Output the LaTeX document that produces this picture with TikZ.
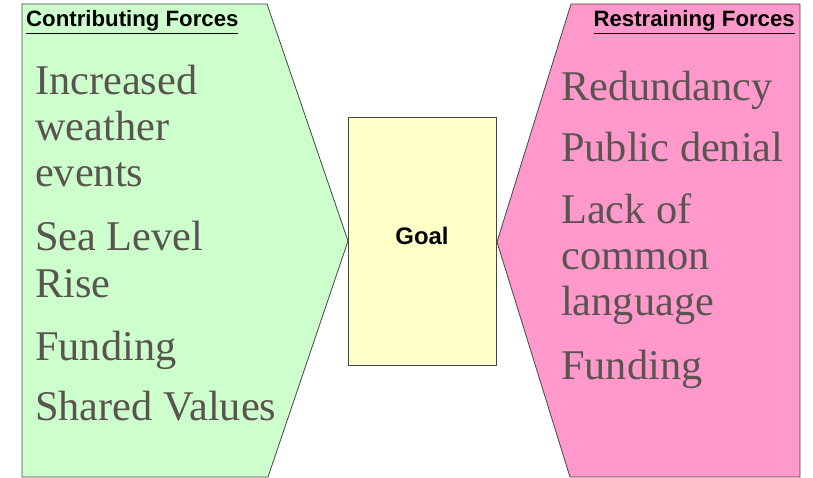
\documentclass[tikz,border=0pt]{standalone}
\usepackage{fontspec}
\setmainfont{Liberation Serif}
\newfontfamily\hdrfont{Liberation Sans}
\definecolor{txtgray}{RGB}{89,84,80}
\definecolor{contribgreen}{RGB}{204,255,204}
\definecolor{restrainpink}{RGB}{255,153,204}
\definecolor{goalyellow}{RGB}{255,255,200}
\definecolor{edgegray}{RGB}{70,70,70}
\tikzset{
  forceshape/.style={draw=edgegray, line width=0.8bp, line join=miter},
  bigtext/.style={anchor=base west, inner sep=0pt, text=txtgray,
    font=\fontsize{42.5}{50}\selectfont},
  hdrtext/.style={inner sep=0pt, text=black,
    font=\hdrfont\bfseries\fontsize{22.3}{26}\selectfont},
  goalbox/.style={draw=edgegray, line width=0.8bp, fill=goalyellow,
    minimum width=148bp, minimum height=248bp, inner sep=0pt,
    text depth=10bp, font=\hdrfont\bfseries\fontsize{24}{28}\selectfont}
}
\begin{document}
\begin{tikzpicture}[x=1bp,y=-1bp]
\useasboundingbox (0,0) rectangle (813,478);
% contributing forces shape
\draw[forceshape, fill=contribgreen]
  (22,4) -- (267,4) -- (348,241) -- (268,477) -- (22,477) -- cycle;
% restraining forces shape
\draw[forceshape, fill=restrainpink]
  (571,4) -- (800,4) -- (800,477) -- (570,477) -- (497,242) -- cycle;
% goal
\node[goalbox] (goal) at (422,241) {Goal};
% headers
\node[hdrtext, anchor=base west] (hdrc) at (26,27) {\underline{Contributing Forces}};
\node[hdrtext, anchor=base east] (hdrr) at (795,27) {\underline{Restraining Forces}};
% contributing items
\node[bigtext] (c1a) at (35,95) {Increased};
\node[bigtext] (c1b) at (35,141) {weather};
\node[bigtext] (c1c) at (35,187) {events};
\node[bigtext] (c2a) at (35,251) {Sea Level};
\node[bigtext] (c2b) at (35,298) {Rise};
\node[bigtext] (c3) at (35,360) {Funding};
\node[bigtext] (c4) at (35,420) {Shared Values};
% restraining items
\node[bigtext] (r1) at (561,101) {Redundancy};
\node[bigtext] (r2) at (561,162) {Public denial};
\node[bigtext] (r3a) at (561,224) {Lack of};
\node[bigtext] (r3b) at (561,270) {common};
\node[bigtext] (r3c) at (561,316) {language};
\node[bigtext] (r4) at (561,379) {Funding};
\end{tikzpicture}
\end{document}
